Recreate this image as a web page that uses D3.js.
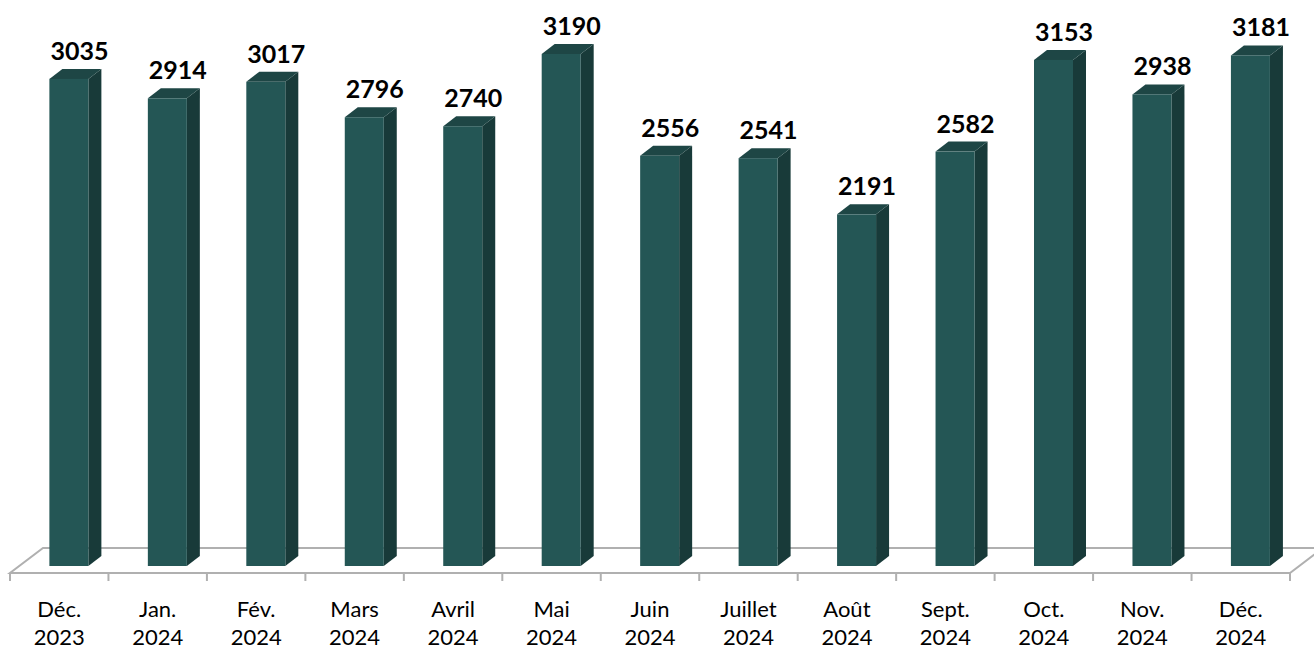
<!DOCTYPE html>
<html lang="fr">
<head>
<meta charset="utf-8">
<title>Mensuel</title>
<script src="https://d3js.org/d3.v7.min.js"></script>
<style>
  html, body { margin: 0; padding: 0; background: #fff; }
  svg { display: block; }
</style>
</head>
<body>
<svg width="1314" height="650"></svg>
<script>
// data
const months = ["Déc.", "Jan.", "Fév.", "Mars", "Avril", "Mai", "Juin", "Juillet", "Août", "Sept.", "Oct.", "Nov.", "Déc."];
const years = ["2023", "2024", "2024", "2024", "2024", "2024", "2024", "2024", "2024", "2024", "2024", "2024", "2024"];
const values = [3035, 2914, 3017, 2796, 2740, 3190, 2556, 2541, 2191, 2582, 3153, 2938, 3181];

const svg = d3.select("svg");

const floorFront = 573, depthX = 33, depthY = 25;
const x = d3.scaleBand().domain(d3.range(values.length)).range([10, 1290]).padding(0);
const y = d3.scaleLinear().domain([0, 3500]).range([566, 4.25]);

const bw = x.bandwidth();
const barW = 39, sideX = 13, sideY = 10;

// floor
const x0 = x.range()[0], x1 = x.range()[1];
svg.append("polygon")
   .attr("points", [[x0, floorFront], [x1, floorFront], [x1 + depthX, floorFront - depthY], [x0 + depthX, floorFront - depthY]].join(" "))
   .attr("fill", "#fff")
   .attr("stroke", "#b0b0b0")
   .attr("stroke-width", 2);

// ticks
svg.selectAll(".tick")
   .data(d3.range(values.length + 1))
   .enter()
   .append("line")
   .attr("x1", i => x0 + i * bw)
   .attr("x2", i => x0 + i * bw)
   .attr("y1", floorFront)
   .attr("y2", floorFront + 8)
   .attr("stroke", "#b0b0b0")
   .attr("stroke-width", 2);

const bars = svg.selectAll(".bar")
   .data(values)
   .enter()
   .append("g")
   .attr("class", "bar");

const left = (d, i) => x(i) + bw * 0.4;

// side face
bars.append("polygon")
    .attr("points", (d, i) => {
      const l = left(d, i) + barW, t = y(d), b = y(0);
      return [[l, t], [l + sideX, t - sideY], [l + sideX, b - sideY], [l, b]].join(" ");
    })
    .attr("fill", "#183a39");

// top face
bars.append("polygon")
    .attr("points", (d, i) => {
      const l = left(d, i), t = y(d);
      return [[l, t], [l + barW, t], [l + barW + sideX, t - sideY], [l + sideX, t - sideY]].join(" ");
    })
    .attr("fill", "#1e4645");

// front face
bars.append("rect")
    .attr("x", (d, i) => left(d, i))
    .attr("y", d => y(d))
    .attr("width", barW)
    .attr("height", d => y(0) - y(d))
    .attr("fill", "#245655");

// value labels
bars.append("text")
    .attr("x", (d, i) => left(d, i) + 30)
    .attr("y", d => y(d) - 19)
    .attr("text-anchor", "middle")
    .style("font-family", "Lato, 'Open Sans', sans-serif")
    .style("font-weight", "bold")
    .style("font-size", "25px")
    .attr("fill", "#000")
    .text(d => d);

// category labels
const cat = svg.selectAll(".cat")
   .data(months)
   .enter()
   .append("text")
   .attr("text-anchor", "middle")
   .style("font-family", "Lato, 'Open Sans', sans-serif")
   .style("font-size", "22px")
   .attr("fill", "#000");

cat.append("tspan")
   .attr("x", (d, i) => x(i) + bw / 2)
   .attr("y", 617)
   .text(d => d);

cat.append("tspan")
   .attr("x", (d, i) => x(i) + bw / 2)
   .attr("y", 645)
   .text((d, i) => years[i]);
</script>
</body>
</html>
